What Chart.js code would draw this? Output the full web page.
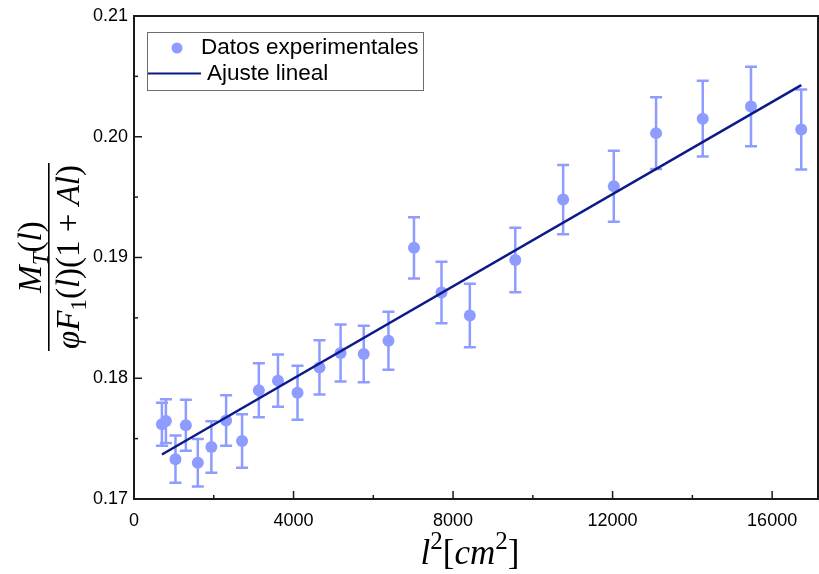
<!DOCTYPE html>
<html>
<head>
<meta charset="utf-8">
<script src="https://cdn.jsdelivr.net/npm/chart.js@4.4.1/dist/chart.umd.min.js"></script>
<style>
  html, body { margin: 0; padding: 0; background: #fff; }
  #wrap { width: 819px; height: 574px; }
</style>
</head>
<body>
<div id="wrap"><canvas id="fitChart" width="819" height="574"></canvas></div>
<script>
// data: l^2 [cm^2], normalised value, error half-width
const lengthsSq = [700, 800, 1040, 1300, 1600, 1940, 2310, 2710, 3130, 3610, 4100, 4650, 5180,
  5760, 6380, 7020, 7710, 8420, 9560, 10760, 12030, 13090, 14260, 15470, 16730];
const values = [0.1762, 0.17645, 0.1733, 0.1761, 0.1730, 0.1743, 0.1765, 0.1748, 0.1790, 0.1798,
  0.1788, 0.1809, 0.1821, 0.1820, 0.1831, 0.1908, 0.1871, 0.1852, 0.1898, 0.1948, 0.1959,
  0.2003, 0.2015, 0.2025, 0.2006];
const errors = [0.00178, 0.00182, 0.00196, 0.00211, 0.00196, 0.00213, 0.00210, 0.00221, 0.00224,
  0.00217, 0.00224, 0.00225, 0.00236, 0.00234, 0.00240, 0.00253, 0.00255, 0.00263, 0.00267,
  0.00287, 0.00294, 0.00298, 0.00313, 0.00329, 0.00331];
// linear fit y = intercept + slope * x
const fitSlope = 1.908e-6;
const fitIntercept = 0.17235;

// tick positions (all) and the labelled ones
const xTickValues = [0, 2000, 4000, 6000, 8000, 10000, 12000, 14000, 16000];
const xTicks = [0, 4000, 8000, 12000, 16000];
const yTickValues = [0.17, 0.175, 0.18, 0.185, 0.19, 0.195, 0.20, 0.205, 0.21];
const yTicks = [0.17, 0.18, 0.19, 0.20, 0.21];
const labels = ['Datos experimentales', 'Ajuste lineal'];

const pointColor = '#8e9cff';
const lineColor = '#0b1a8a';

const points = lengthsSq.map((x, i) => ({ x: x, y: values[i] }));
const xFirst = lengthsSq[0];
const xLast = lengthsSq[lengthsSq.length - 1];
const fitLine = [xFirst, xLast].map(x => ({ x: x, y: fitIntercept + fitSlope * x }));

const isMajor = (list, v) => list.some(t => Math.abs(t - v) < 1e-6);

// error bars under the points
const errorBars = {
  id: 'errorBars',
  beforeDatasetsDraw(chart) {
    const { ctx, scales: { x, y } } = chart;
    ctx.save();
    ctx.strokeStyle = pointColor;
    ctx.lineWidth = 2.5;
    lengthsSq.forEach((v, i) => {
      const px = x.getPixelForValue(v);
      const top = y.getPixelForValue(values[i] + errors[i]);
      const bot = y.getPixelForValue(values[i] - errors[i]);
      ctx.beginPath();
      ctx.moveTo(px, top); ctx.lineTo(px, bot);
      ctx.moveTo(px - 6, top); ctx.lineTo(px + 6, top);
      ctx.moveTo(px - 6, bot); ctx.lineTo(px + 6, bot);
      ctx.stroke();
    });
    ctx.restore();
  }
};

// frame + inward tick marks
const frame = {
  id: 'frame',
  afterDatasetsDraw(chart) {
    const { ctx, chartArea: a, scales: { x, y } } = chart;
    ctx.save();
    ctx.strokeStyle = '#1a1a1a';
    ctx.lineWidth = 1.5;
    x.ticks.forEach(t => {
      const px = x.getPixelForValue(t.value);
      const len = isMajor(xTicks, t.value) ? 8 : 4;
      ctx.beginPath(); ctx.moveTo(px, a.bottom); ctx.lineTo(px, a.bottom - len); ctx.stroke();
    });
    y.ticks.forEach(t => {
      const py = y.getPixelForValue(t.value);
      const len = isMajor(yTicks, t.value) ? 8 : 4;
      ctx.beginPath(); ctx.moveTo(a.left, py); ctx.lineTo(a.left + len, py); ctx.stroke();
    });
    ctx.lineWidth = 2;
    ctx.strokeRect(a.left, a.top, a.right - a.left, a.bottom - a.top);
    ctx.restore();
  }
};

// small helper to draw LaTeX-ish runs of text
function mathFont(r, size) {
  const s = (r.sub || r.sup) ? Math.round(size * 0.7) : size;
  return (r.i ? 'italic ' : '') + s + 'px "Liberation Serif", serif';
}
function runsWidth(ctx, runs, size) {
  let w = 0;
  runs.forEach(r => { ctx.font = mathFont(r, size); r.w = ctx.measureText(r.t).width; w += r.w; });
  return w;
}
function drawRuns(ctx, runs, cx, base, size) {
  const w = runsWidth(ctx, runs, size);
  let px = cx - w / 2;
  runs.forEach(r => {
    ctx.font = mathFont(r, size);
    const dy = r.sub ? size * 0.2 : (r.sup ? -size * 0.42 : 0);
    ctx.fillText(r.t, px, base + dy);
    px += r.w;
  });
  return w;
}

const axisTitles = {
  id: 'axisTitles',
  afterDraw(chart) {
    const { ctx } = chart;
    ctx.save();
    ctx.fillStyle = '#000';
    ctx.textBaseline = 'alphabetic';

    // x title: l^2 [cm^2]
    drawRuns(ctx, [
      { t: 'l', i: true }, { t: '2', sup: true }, { t: '[' },
      { t: 'cm', i: true }, { t: '2', sup: true }, { t: ']' }
    ], 470, 564, 35);

    // y title: fraction, rotated
    const num = [{ t: 'M', i: true }, { t: 'T', i: true, sub: true }, { t: '(' }, { t: 'l', i: true }, { t: ')' }];
    const den = [{ t: 'φ', i: true }, { t: 'F', i: true }, { t: '1', sub: true }, { t: '(' }, { t: 'l', i: true },
      { t: ')(1 + ' }, { t: 'A', i: true }, { t: 'l', i: true }, { t: ')' }];
    ctx.translate(49, 257);
    ctx.rotate(-Math.PI / 2);
    const size = 33;
    const dw = runsWidth(ctx, den, size);
    drawRuns(ctx, num, 0, -8, size);
    drawRuns(ctx, den, 0, 30, size);
    ctx.fillRect(-dw / 2 - 2, -1, dw + 4, 1.6);
    ctx.restore();
  }
};

// boxed legend inside the plot
const boxLegend = {
  id: 'boxLegend',
  afterDraw(chart) {
    const { ctx } = chart;
    ctx.save();
    ctx.fillStyle = '#fff';
    ctx.fillRect(147, 32, 276, 59);
    ctx.strokeStyle = '#6e6e6e';
    ctx.lineWidth = 1;
    ctx.strokeRect(147.5, 32.5, 276, 58);
    ctx.fillStyle = pointColor;
    ctx.beginPath(); ctx.arc(177, 48, 5.5, 0, Math.PI * 2); ctx.fill();
    ctx.strokeStyle = lineColor;
    ctx.lineWidth = 2;
    ctx.beginPath(); ctx.moveTo(148, 73.5); ctx.lineTo(201, 73.5); ctx.stroke();
    ctx.fillStyle = '#000';
    ctx.font = '22.5px "Liberation Sans", Arial, sans-serif';
    ctx.textBaseline = 'middle';
    ctx.fillText(labels[0], 201, 48);
    ctx.fillText(labels[1], 207, 74);
    ctx.restore();
  }
};

const ctx = document.getElementById('fitChart').getContext('2d');

const fitChart = new Chart(ctx, {
  type: 'scatter',
  data: {
    datasets: [{
      type: 'line',
      label: labels[1],
      data: fitLine,
      borderColor: lineColor,
      borderWidth: 2.5,
      pointRadius: 0,
      fill: false,
      order: 0
    }, {
      label: labels[0],
      data: points,
      backgroundColor: pointColor,
      borderWidth: 0,
      pointRadius: 6,
      order: 1
    }]
  },
  options: {
    responsive: false,
    animation: false,
    layout: { autoPadding: false, padding: { left: 0, right: 1, top: 16, bottom: 0 } },
    plugins: {
      legend: { display: false },
      tooltip: { enabled: false }
    },
    scales: {
      x: {
        type: 'linear',
        min: 0,
        max: 17150,
        bounds: 'data',
        grid: { display: false, drawTicks: false },
        border: { display: false },
        afterBuildTicks: s => { s.ticks = xTickValues.map(v => ({ value: v })); },
        ticks: {
          autoSkip: false,
          maxRotation: 0,
          padding: 11,
          color: '#000',
          font: { family: '"Liberation Sans", Arial, sans-serif', size: 18 },
          callback: v => isMajor(xTicks, v) ? String(v) : ''
        },
        afterFit: s => { s.height = 75; s.paddingLeft = 0; s.paddingRight = 0; }
      },
      y: {
        min: 0.17,
        max: 0.21,
        bounds: 'data',
        grid: { display: false, drawTicks: false },
        border: { display: false },
        afterBuildTicks: s => { s.ticks = yTickValues.map(v => ({ value: v })); },
        ticks: {
          autoSkip: false,
          padding: 6,
          color: '#000',
          font: { family: '"Liberation Sans", Arial, sans-serif', size: 18 },
          callback: v => isMajor(yTicks, v) ? v.toFixed(2) : ''
        },
        afterFit: s => { s.width = 134; s.paddingTop = 0; s.paddingBottom = 0; }
      }
    }
  },
  plugins: [errorBars, frame, axisTitles, boxLegend]
});
</script>
</body>
</html>
